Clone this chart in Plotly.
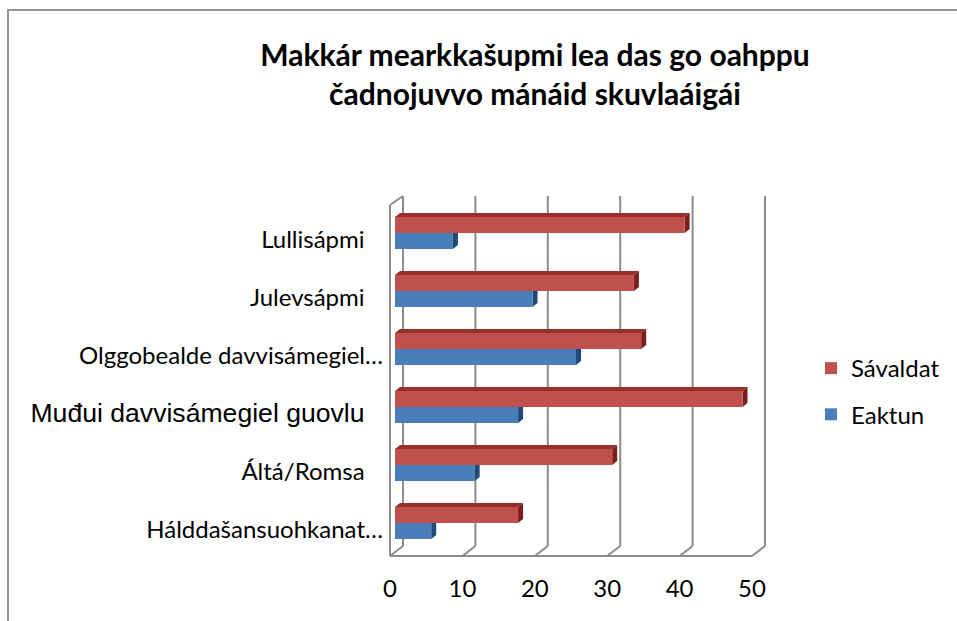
import plotly.graph_objects as go

# ---- data -------------------------------------------------------------
categories = [
    "Hálddašansuohkanat…",
    "Áltá/Romsa",
    "Muđui davvisámegiel guovlu",
    "Olggobealde davvisámegiel…",
    "Julevsápmi",
    "Lullisápmi",
]
eaktun = [5, 11, 17, 25, 19, 8]
savaldat = [17, 30, 48, 34, 33, 40]
x_ticks = [0, 10, 20, 30, 40, 50]

# ---- geometry ---------------------------------------------------------
W, H = 957, 621
L, R = 386, 768          # plot area, px
T, B = 204, 552
PX_PER_UNIT = 362 / 50   # x scale of the bar faces
X0 = -(395 - L) / PX_PER_UNIT
X1 = 50 + (R - 757) / PX_PER_UNIT
Y_UNITS_PER_PX = len(categories) / (B - T)

def dx(px):
    return px / PX_PER_UNIT

def py2paper(py):
    return (B - py) / (B - T)

def px2paper(px):
    return (px - L) / (R - L)

RED, BLUE = "#C0504D", "#4A7EBB"
RED_TOP, RED_SIDE = "#9A2E2B", "#7A1F1C"
BLUE_SIDE = "#1F4A78"
GRID = "#8C8C8C"
FONT = "Lato"

idx = list(range(len(categories)))
BARGAP = 0.45
HALF = (1 - BARGAP) / 2          # height of one bar in category units

fig = go.Figure()
fig.add_trace(go.Bar(y=idx, x=eaktun, orientation="h", name="Eaktun",
                     marker=dict(color=BLUE, line=dict(width=0)),
                     legendgroup="e", legendrank=2))
fig.add_trace(go.Bar(y=idx, x=savaldat, orientation="h", name="Sávaldat",
                     marker=dict(color=RED, line=dict(width=0)),
                     legendgroup="s", legendrank=1))

shapes = []
line = dict(color=GRID, width=2)

# back wall gridlines and floor
BACK, FRONT = dx(8), dx(-5)
for v in x_ticks:
    shapes.append(dict(type="line", xref="x", yref="paper", layer="below",
                       x0=v + BACK, x1=v + BACK, y0=py2paper(546), y1=py2paper(196),
                       line=line))
    shapes.append(dict(type="line", xref="x", yref="paper", layer="below",
                       x0=v + BACK, x1=v + FRONT, y0=py2paper(546), y1=py2paper(556),
                       line=line))
shapes.append(dict(type="line", xref="x", yref="paper", layer="below",
                   x0=x_ticks[0] + FRONT, x1=x_ticks[-1] + FRONT,
                   y0=py2paper(556), y1=py2paper(556), line=line))
shapes.append(dict(type="line", xref="x", yref="paper", layer="below",
                   x0=FRONT, x1=FRONT, y0=py2paper(556), y1=py2paper(205), line=line))
shapes.append(dict(type="line", xref="x", yref="paper", layer="below",
                   x0=FRONT, x1=BACK, y0=py2paper(205), y1=py2paper(196), line=line))

# bar depth faces
DX3, DY3 = dx(5), 4 * Y_UNITS_PER_PX
for c, (b, r) in enumerate(zip(eaktun, savaldat)):
    top = c + HALF
    shapes.append(dict(type="path", xref="x", yref="y", layer="between",
                       path=f"M 0,{top} L {r},{top} L {r + DX3},{top + DY3} L {DX3},{top + DY3} Z",
                       fillcolor=RED_TOP, line=dict(width=0)))
    shapes.append(dict(type="path", xref="x", yref="y", layer="between",
                       path=f"M {r},{c} L {r},{top} L {r + DX3},{top + DY3} L {r + DX3},{c + DY3} Z",
                       fillcolor=RED_SIDE, line=dict(width=0)))
    shapes.append(dict(type="path", xref="x", yref="y", layer="between",
                       path=f"M {b},{c - HALF} L {b},{c} L {b + DX3},{c + DY3} L {b + DX3},{c - HALF + DY3} Z",
                       fillcolor=BLUE_SIDE, line=dict(width=0)))

# chart frame
shapes.append(dict(type="rect", xref="paper", yref="paper", layer="below",
                   x0=px2paper(8), x1=px2paper(1010), y0=py2paper(10), y1=py2paper(660),
                   line=dict(color="#959595", width=2), fillcolor="rgba(0,0,0,0)"))

# category labels: truncated ones sit closer to the axis
NBSP = "\u00a0"
tick_text = []
for name in categories:
    pad = "" if name.endswith("…") else NBSP * 3
    if name.startswith("Muđui"):
        tick_text.append(f'<span style="font-family:Liberation Sans;font-size:26.6px">{name}</span>{pad}')
    else:
        tick_text.append(name + pad)

fig.update_layout(
    width=W, height=H,
    margin=dict(l=L, r=W - R, t=T, b=H - B, pad=0),
    paper_bgcolor="white", plot_bgcolor="rgba(0,0,0,0)",
    barmode="group", bargap=BARGAP, bargroupgap=0,
    font=dict(family=FONT, size=24, color="#000000"),
    title=dict(text="<b>Makkár mearkkašupmi lea das go oahppu<br>čadnojuvvo mánáid skuvlaáigái</b>",
               x=535 / W, xanchor="center", y=1 - 66 / H, yanchor="middle",
               font=dict(family=FONT, size=30, color="#000000")),
    xaxis=dict(range=[X0, X1], tickvals=x_ticks, ticktext=[str(v) for v in x_ticks],
               showgrid=False, zeroline=False, showline=False, ticks="",
               ticklabelshift=-5, ticklabelstandoff=20,
               tickfont=dict(family=FONT, size=24, color="#000000")),
    yaxis=dict(range=[-0.5, len(categories) - 0.5], tickvals=idx, ticktext=tick_text,
               showgrid=False, zeroline=False, showline=False, ticks="",
               ticklabelshift=7, ticklabelstandoff=2,
               tickfont=dict(family=FONT, size=24, color="#000000")),
    legend=dict(xref="container", yref="container", x=811 / W, y=1 - 346 / H,
                xanchor="left", yanchor="top", traceorder="grouped",
                tracegroupgap=12, itemwidth=30,
                font=dict(family=FONT, size=24, color="#000000"),
                bgcolor="rgba(0,0,0,0)"),
    shapes=shapes,
    showlegend=True,
)

fig.write_html("out.html")
